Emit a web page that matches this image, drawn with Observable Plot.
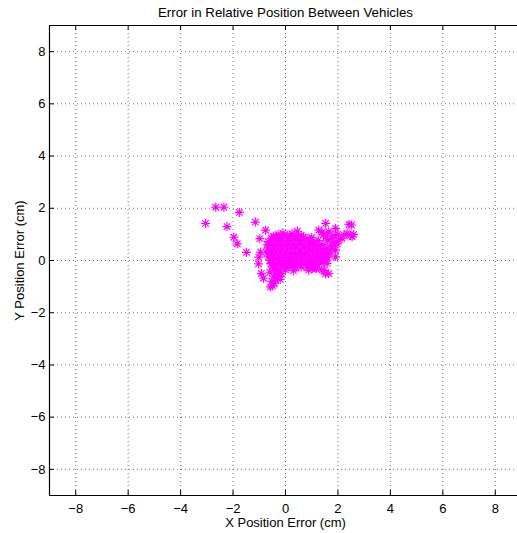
<!DOCTYPE html>
<html><head><meta charset="utf-8">
<script src="https://cdn.jsdelivr.net/npm/d3@7"></script>
<script src="https://cdn.jsdelivr.net/npm/@observablehq/plot@0.6"></script>
<style>html,body{margin:0;padding:0;background:#fff;overflow:hidden}</style>
</head><body><div id="chart"></div>
<script>
const title = "Error in Relative Position Between Vehicles";
const xLabel = "X Position Error (cm)";
const yLabel = "Y Position Error (cm)";
const xTicks = [-8, -6, -4, -2, 0, 2, 4, 6, 8];
const yTicks = [-8, -6, -4, -2, 0, 2, 4, 6, 8];

// X position error (cm) for each sample
const xErr = [
  // outliers
  -3.05, -2.66, -2.35, -1.76, -2.23, -1.97, -1.84, -1.49, -1.15, -0.76, -0.98,
  -0.95, -1.02, -1.03, -0.92, -0.84,
  // row ~1.0
  -0.28, -0.10, 0.08, 0.25, 0.45, 0.60, -0.45,
  // row ~0.88
  -0.55, -0.38, -0.20, -0.02, 0.15, 0.33, 0.50, 0.68, 0.85, 1.00,
  // row ~0.74
  -0.65, -0.48, -0.30, -0.12, 0.05, 0.22, 0.40, 0.57, 0.74, 0.92, 1.08, 1.25,
  // row ~0.6
  -0.70, -0.52, -0.35, -0.18, 0.00, 0.17, 0.35, 0.52, 0.70, 0.87, 1.05, 1.22, 1.40,
  // row ~0.45
  -0.68, -0.50, -0.33, -0.15, 0.02, 0.20, 0.38, 0.55, 0.72, 0.90, 1.07, 1.25, 1.42, 1.58,
  // row ~0.3
  -0.70, -0.53, -0.35, -0.18, 0.00, 0.18, 0.35, 0.53, 0.70, 0.88, 1.05, 1.22, 1.40, 1.57,
  // row ~0.15
  -0.66, -0.48, -0.30, -0.13, 0.05, 0.22, 0.40, 0.57, 0.75, 0.92, 1.10, 1.27, 1.45, 1.62,
  // row ~0
  -0.60, -0.43, -0.25, -0.08, 0.10, 0.27, 0.45, 0.62, 0.80, 0.97, 1.15, 1.32, 1.50,
  // row ~-0.13
  -0.55, -0.38, -0.20, -0.03, 0.15, 0.32, 0.50, 0.67, 0.85, 1.02, 1.20, 1.38,
  // row ~-0.26
  -0.50, -0.33, -0.15, 0.02, 0.20, 0.40, 0.60, 0.82, 1.00, 1.18,
  // row ~-0.38
  -0.42, -0.25, 0.00, 0.30, 0.89, 1.15, 1.39,
  // lower-left lobe
  -0.60, -0.57, -0.50, -0.38, -0.25, -0.45, -0.30, -0.15, -0.52, -0.42, -0.20, -0.35,
  // right arm
  1.27, 1.53, 1.45, 1.91, 2.42, 2.52, 2.54, 2.60, 2.48, 2.23, 2.03, 1.91, 1.91, 1.59,
  1.65, 1.46, 1.97, 1.75, 1.60, 1.80, 2.15, 2.35, 1.70, 1.85, 1.65, 2.00, 1.55, 1.75,
  1.55, 1.40, 1.84, 1.02, 1.53
];
// Y position error (cm) for each sample
const yErr = [
  1.42, 2.04, 2.04, 1.84, 1.30, 0.89, 0.64, 0.31, 1.47, 1.16, 0.84,
  0.32, 0.13, -0.13, -0.50, -0.68,
  1.00, 1.05, 0.98, 1.03, 1.12, 0.97, 0.93,
  0.86, 0.90, 0.85, 0.90, 0.87, 0.92, 0.86, 0.90, 0.84, 0.88,
  0.72, 0.76, 0.73, 0.77, 0.71, 0.75, 0.78, 0.72, 0.76, 0.70, 0.74, 0.77,
  0.60, 0.62, 0.58, 0.63, 0.59, 0.61, 0.57, 0.63, 0.60, 0.56, 0.62, 0.58, 0.61,
  0.45, 0.47, 0.43, 0.48, 0.44, 0.46, 0.49, 0.43, 0.47, 0.44, 0.48, 0.45, 0.42, 0.47,
  0.30, 0.32, 0.28, 0.33, 0.29, 0.31, 0.27, 0.33, 0.30, 0.28, 0.32, 0.29, 0.31, 0.27,
  0.14, 0.17, 0.13, 0.16, 0.12, 0.17, 0.14, 0.11, 0.16, 0.13, 0.17, 0.12, 0.15, 0.10,
  0.00, 0.03, -0.02, 0.02, -0.01, 0.03, -0.03, 0.01, -0.02, 0.02, -0.01, 0.03, -0.02,
  -0.12, -0.15, -0.10, -0.14, -0.11, -0.15, -0.10, -0.13, -0.16, -0.12, -0.15, -0.10,
  -0.25, -0.28, -0.24, -0.27, -0.23, -0.28, -0.25, -0.27, -0.22, -0.29,
  -0.37, -0.40, -0.36, -0.39, -0.37, -0.31, -0.37,
  -0.45, -1.01, -0.97, -0.75, -0.62, -0.60, -0.52, -0.50, -0.80, -0.88, -0.72, -0.65,
  1.16, 1.42, 1.00, 1.23, 1.38, 1.36, 0.91, 1.00, 0.96, 0.97, 0.78, 0.40, 0.14, -0.11,
  -0.50, -0.38, 0.64, 0.85, 0.75, 0.60, 0.85, 1.05, 0.30, 0.95, 1.10, 1.00, 0.90, 0.45,
  0.25, 1.08, 0.64, -0.32, -0.51
];

const points = xErr.map((x, i) => ({x, y: yErr[i]}));

// MATLAB-style '*' marker: plus + cross
const asterisk = {
  draw(ctx, size) {
    const r = Math.sqrt(size / Math.PI);
    const d = r * 0.72;
    ctx.moveTo(-r, 0); ctx.lineTo(r, 0);
    ctx.moveTo(0, -r); ctx.lineTo(0, r);
    ctx.moveTo(-d, -d); ctx.lineTo(d, d);
    ctx.moveTo(-d, d); ctx.lineTo(d, -d);
  }
};

const W = 517, H = 533, mL = 49, mR = -4, mT = 25, mB = 38;
const fw = W - mL - mR, fh = H - mT - mB, tick = 5;

const chart = Plot.plot({
  width: W, height: H,
  marginLeft: mL, marginRight: mR, marginTop: mT, marginBottom: mB,
  style: {fontFamily: "'Liberation Sans', Arial, Helvetica, sans-serif", fontSize: "13px", background: "#fff", color: "#000", overflow: "visible"},
  x: {domain: [-9, 9], ticks: xTicks, tickSize: 0, tickPadding: 8, label: null},
  y: {domain: [-9, 9], ticks: yTicks, tickSize: 0, tickPadding: 4, label: null},
  marks: [
    Plot.ruleX(xTicks, {x: d => d, stroke: "#000", strokeOpacity: 0.55, strokeDasharray: "1,3"}),
    Plot.ruleY(yTicks, {y: d => d, stroke: "#000", strokeOpacity: 0.55, strokeDasharray: "1,3"}),
    Plot.tickX(xTicks, {x: d => d, insetTop: fh - tick, stroke: "#000"}),
    Plot.tickX(xTicks, {x: d => d, insetBottom: fh - tick, stroke: "#000"}),
    Plot.tickY(yTicks, {y: d => d, insetRight: fw - tick, stroke: "#000"}),
    Plot.ruleX([-9], {stroke: "#000", strokeWidth: 1.2}),
    Plot.ruleY([-9, 9], {stroke: "#000", strokeWidth: 1.2}),
    Plot.dot(points, {x: "x", y: "y", symbol: asterisk, r: 4.5, stroke: "#ff00ff", strokeWidth: 1.2}),
    Plot.text([title], {frameAnchor: "top", lineAnchor: "middle", textAnchor: "middle", dy: -13, fontSize: 13.3}),
    Plot.text([xLabel], {frameAnchor: "bottom", lineAnchor: "middle", textAnchor: "middle", dy: 27, fontSize: 13}),
    Plot.text([yLabel], {frameAnchor: "left", lineAnchor: "middle", textAnchor: "middle", dx: -30, rotate: -90, fontSize: 13})
  ]
});
document.getElementById("chart").appendChild(chart);
</script>
</body></html>
